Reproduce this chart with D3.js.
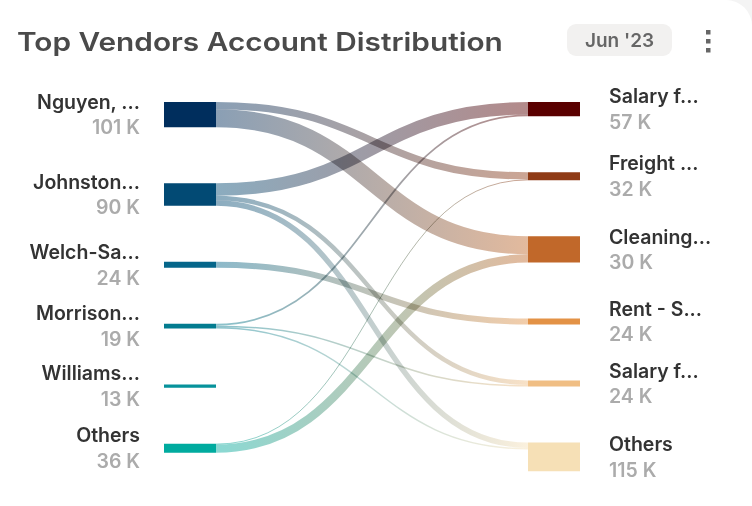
<!DOCTYPE html>
<html>
<head>
<meta charset="utf-8">
<script src="https://cdn.jsdelivr.net/npm/d3@7"></script>
<style>
  html, body { margin: 0; padding: 0; background: #f4f4f4; }
  svg { display: block; }
  .link { mix-blend-mode: multiply; }
</style>
</head>
<body>
<svg id="chart" width="752" height="506"></svg>
<script>
// ---------- data ----------
const title = "Top Vendors Account Distribution";
const periodLabel = "Jun '23";

const sourceNames  = ["Nguyen, ...", "Johnston...", "Welch-Sa...", "Morrison...", "Williams...", "Others"];
const sourceValues = [101, 90, 24, 19, 13, 36];
const sourceColors = ["#002e5d", "#024a74", "#05668a", "#037c90", "#06929b", "#00ab9f"];

const targetNames  = ["Salary f...", "Freight ...", "Cleaning...", "Rent - S...", "Salary f...", "Others"];
const targetValues = [57, 32, 30, 24, 24, 115];
const targetColors = ["#5a0000", "#8f3b16", "#c1682a", "#e39246", "#f0be84", "#f6e0b6"];

// flows (source index, target index, value in K)
const linkSource = [0, 0, 1, 1, 1, 2, 3, 3, 3, 5, 5];
const linkTarget = [1, 2, 0, 4, 5, 3, 0, 4, 5, 1, 2];
const linkValue  = [29, 72, 50, 18, 22, 24, 7, 6, 6, 3, 33];

// ---------- layout ----------
const svg = d3.select("#chart");
const W = 752, H = 506;

const hScale = d3.scaleLinear().domain([0, 100]).range([0, 25]);
const colX = d3.scaleOrdinal().domain(["source", "target"]).range([164, 528]);
const nodeW = 52;
const topY = 102, padY = 56;

const links = linkValue.map((v, i) => ({ s: linkSource[i], t: linkTarget[i], value: v }));

function buildColumn(names, values, colors, side) {
  let y = topY;
  return names.map((n, i) => {
    const flow = d3.sum(links.filter(l => (side === "source" ? l.s : l.t) === i), l => l.value);
    const size = Math.max(values[i], flow);
    const h = hScale(size);
    const node = { name: n, value: values[i], color: colors[i], x0: colX(side), x1: colX(side) + nodeW, y0: y, y1: y + h };
    y += h + padY;
    return node;
  });
}
const srcNodes = buildColumn(sourceNames, sourceValues, sourceColors, "source");
const tgtNodes = buildColumn(targetNames, targetValues, targetColors, "target");

// stack links at sources (ordered by target) and targets (ordered by source)
srcNodes.forEach((n, i) => {
  let y = n.y0;
  links.filter(l => l.s === i).sort((a, b) => a.t - b.t).forEach(l => {
    l.w = hScale(l.value); l.sy = y + l.w / 2; y += l.w;
  });
});
tgtNodes.forEach((n, i) => {
  let y = n.y0;
  links.filter(l => l.t === i).sort((a, b) => a.s - b.s).forEach(l => {
    l.ty = y + l.w / 2; y += l.w;
  });
});

// ---------- card ----------
svg.append("rect").attr("x", -40).attr("y", 0).attr("width", W + 40).attr("height", H + 40)
  .attr("rx", 26).attr("fill", "#ffffff");

// ---------- header ----------
const titleG = svg.append("g").attr("transform", "translate(17,50.5)");
const titleT = titleG.append("text").attr("x", 0).attr("y", 0)
  .attr("font-family", "Inter, 'Open Sans', sans-serif").attr("font-weight", 600)
  .attr("font-size", 25.5).attr("fill", "#4a4a4a")
  .text(title);
const natural = titleT.node().getComputedTextLength();
titleT.attr("transform", `scale(${486 / natural},1)`);

svg.append("rect").attr("x", 567).attr("y", 24).attr("width", 105).attr("height", 32)
  .attr("rx", 9).attr("fill", "#f2f1f0");
svg.append("text").attr("x", 619.5).attr("y", 47).attr("text-anchor", "middle")
  .attr("font-family", "Inter, sans-serif").attr("font-weight", 600).attr("font-size", 19)
  .attr("fill", "#666666").text(periodLabel);

svg.selectAll("rect.dot").data([32, 41, 50]).join("rect").attr("class", "dot")
  .attr("x", 706).attr("y", d => d - 2).attr("width", 4.5).attr("height", 4.5).attr("fill", "#666");

// ---------- links ----------
const defs = svg.append("defs");
const linkGen = d3.linkHorizontal();
const x0 = colX("source") + nodeW, x1 = colX("target");

links.forEach((l, i) => {
  const g = defs.append("linearGradient").attr("id", "lg" + i)
    .attr("gradientUnits", "userSpaceOnUse").attr("x1", x0).attr("x2", x1).attr("y1", 0).attr("y2", 0);
  g.append("stop").attr("offset", "0%").attr("stop-color", srcNodes[l.s].color);
  g.append("stop").attr("offset", "100%").attr("stop-color", tgtNodes[l.t].color);
});

svg.append("g").selectAll("path").data(links).join("path")
  .attr("class", "link")
  .attr("d", l => linkGen({ source: [x0, l.sy], target: [x1, l.ty] }))
  .attr("fill", "none")
  .attr("stroke", (l, i) => `url(#lg${i})`)
  .attr("stroke-opacity", 0.46)
  .attr("stroke-width", l => Math.max(1, l.w));

// ---------- nodes ----------
const allNodes = srcNodes.map(n => ({ ...n, side: "source" })).concat(tgtNodes.map(n => ({ ...n, side: "target" })));
svg.append("g").selectAll("rect").data(allNodes).join("rect")
  .attr("x", d => d.x0).attr("y", d => d.y0)
  .attr("width", d => d.x1 - d.x0).attr("height", d => Math.max(1, d.y1 - d.y0))
  .attr("fill", d => d.color);

// ---------- labels ----------
const lab = svg.append("g").attr("font-family", "Inter, sans-serif").attr("font-weight", 600).attr("font-size", 19.5);
allNodes.forEach(d => {
  const cy = (d.y0 + d.y1) / 2;
  const isSrc = d.side === "source";
  const x = isSrc ? 140 : 609;
  const anchor = isSrc ? "end" : "start";
  lab.append("text").attr("x", x).attr("y", cy - 5.8).attr("text-anchor", anchor)
    .attr("fill", "#333333").text(d.name);
  lab.append("text").attr("x", x).attr("y", cy + 19.8).attr("text-anchor", anchor)
    .attr("fill", "#ababab").text(d.value + " K");
});
</script>
</body>
</html>
